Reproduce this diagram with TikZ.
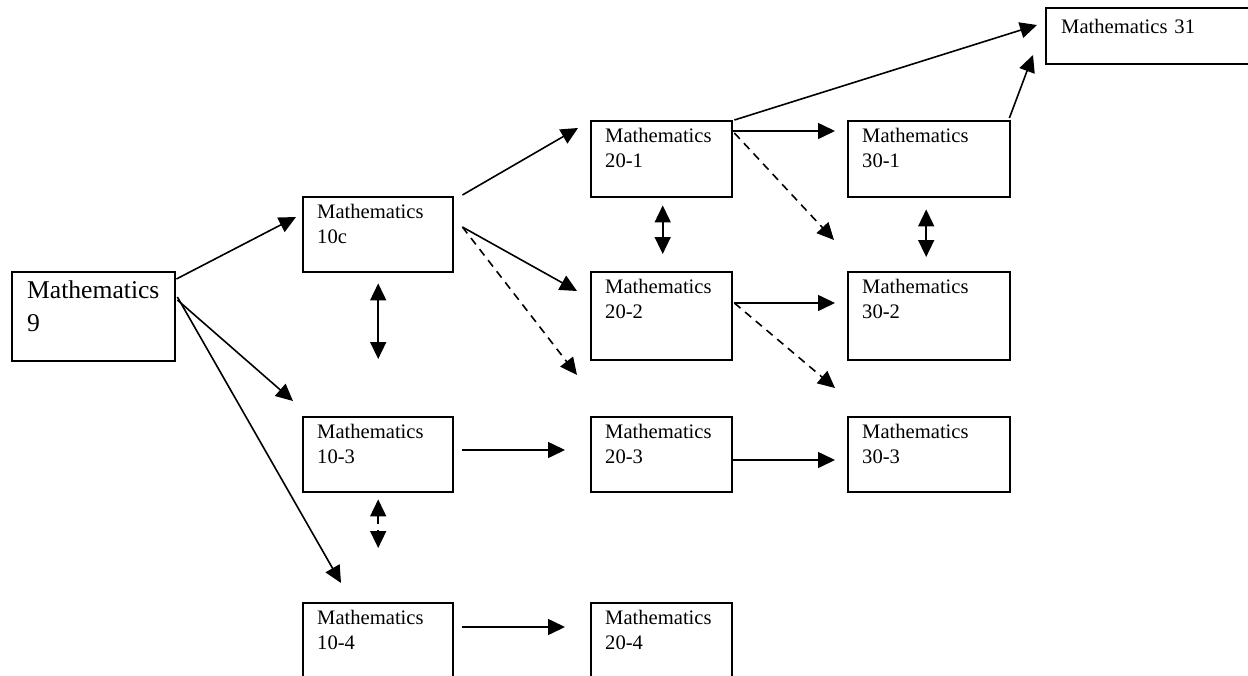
\documentclass[tikz,border=0pt]{standalone}
\usepackage{fontspec}
\setmainfont{Liberation Serif}
\usetikzlibrary{arrows.meta,calc}

\begin{document}
\begin{tikzpicture}[x=0.5pt,y=-0.5pt,
        course/.style={draw, line width=1.2pt, anchor=north west, align=left, inner xsep=7pt, inner ysep=0pt,
            text height=10.5pt, font=\fontsize{10.3}{12.5}\selectfont},
        link/.style={line width=0.8pt, -{Triangle[length=8.5pt,width=8pt]}},
        both/.style={line width=0.8pt, {Triangle[length=8.5pt,width=8pt]}-{Triangle[length=8.5pt,width=8pt]}},
        maybe/.style={dash pattern=on 4pt off 3pt}]
            \clip (0,0) rectangle (1248,675);
            \node[course, inner xsep=7.5pt, text width=66.5pt, text height=13pt, text depth=31.5pt,
                font=\fontsize{12.8}{16.5}\selectfont] (m9) at (11,271) {Mathematics\\9};
            \begin{scope}[every node/.append style={text width=61pt}]
                \node[course, text depth=27pt] (m10c) at (302,196) {Mathematics\\10c};
                \node[course, text depth=27pt] (m103) at (302,416) {Mathematics\\10-3};
                \node[course, text depth=40pt] (m104) at (302,602) {Mathematics\\10-4};
            \end{scope}
            \begin{scope}[every node/.append style={text width=56.5pt}]
                \node[course, text depth=27.5pt] (m201) at (590,120) {Mathematics\\20-1};
                \node[course, text depth=33.5pt] (m202) at (590,271) {Mathematics\\20-2};
                \node[course, text depth=27pt] (m203) at (590,416) {Mathematics\\20-3};
                \node[course, text depth=40pt] (m204) at (590,602) {Mathematics\\20-4};
            \end{scope}
            \begin{scope}[every node/.append style={text width=67pt}]
                \node[course, text depth=27.5pt] (m301) at (847,120) {Mathematics\\30-1};
                \node[course, text depth=33.5pt] (m302) at (847,271) {Mathematics\\30-2};
                \node[course, text depth=27pt] (m303) at (847,416) {Mathematics\\30-3};
            \end{scope}
            \node[course, inner xsep=7.5pt, text width=105pt, text height=12.5pt, text depth=15.5pt] (m31) at (1045,7) {Mathematics 31};

            \draw[link] ($(m9.north east)+(0,8)$) -- ($(m10c.north west)+(-6,21)$);
            \draw[link] ($(m9.north east)+(1,29)$) -- ($(m103.north west)+(-9,-15)$);
            \draw[link] ($(m9.north east)+(1,26)$) -- ($(m104.north west)+(39,-19)$);
            \draw[both] ($(m10c.south)+(0,10)$) -- ($(m103.north)+(0,-57)$);
            \draw[both, maybe] ($(m103.south)+(0,6)$) -- ($(m104.north)+(0,-54)$);

            \draw[link] ($(m10c.north east)+(8,-1)$) -- ($(m201.north west)+(-12,8)$);
            \draw[link] ($(m10c.north east)+(8,31)$) -- ($(m202.north west)+(-13,20)$);
            \draw[link, maybe] ($(m10c.north east)+(8,31)$) -- ($(m203.north west)+(-13,-41)$);
            \draw[link] ($(m103.north east)+(8,34)$) -- ($(m203.north west)+(-25,34)$);
            \draw[link] ($(m104.north east)+(8,25)$) -- ($(m204.north west)+(-25,25)$);

            \draw[both] ($(m201.south)+(1,7)$) -- ($(m202.north)+(1,-17)$);
            \draw[link] ($(m201.north east)+(0,11)$) -- ($(m301.north west)+(-12,11)$);
            \draw[link, maybe] ($(m201.north east)+(1,13)$) -- ($(m302.north west)+(-13,-31)$);
            \draw[link] ($(m201.north east)+(1,0)$) -- ($(m31.north west)+(-8,18)$);
            \draw[link] ($(m202.north east)+(1,32)$) -- ($(m302.north west)+(-12,32)$);
            \draw[link, maybe] ($(m202.north east)+(1,32)$) -- ($(m303.north west)+(-12,-28)$);
            \draw[link] ($(m203.north east)+(0,44)$) -- ($(m303.north west)+(-12,44)$);

            \draw[both] ($(m301.south)+(-3,11)$) -- ($(m302.north)+(-3,-14)$);
            \draw[link] ($(m301.north east)+(-2,-2)$) -- ($(m31.north west)+(-12,48)$);
        \end{tikzpicture}
\end{document}
